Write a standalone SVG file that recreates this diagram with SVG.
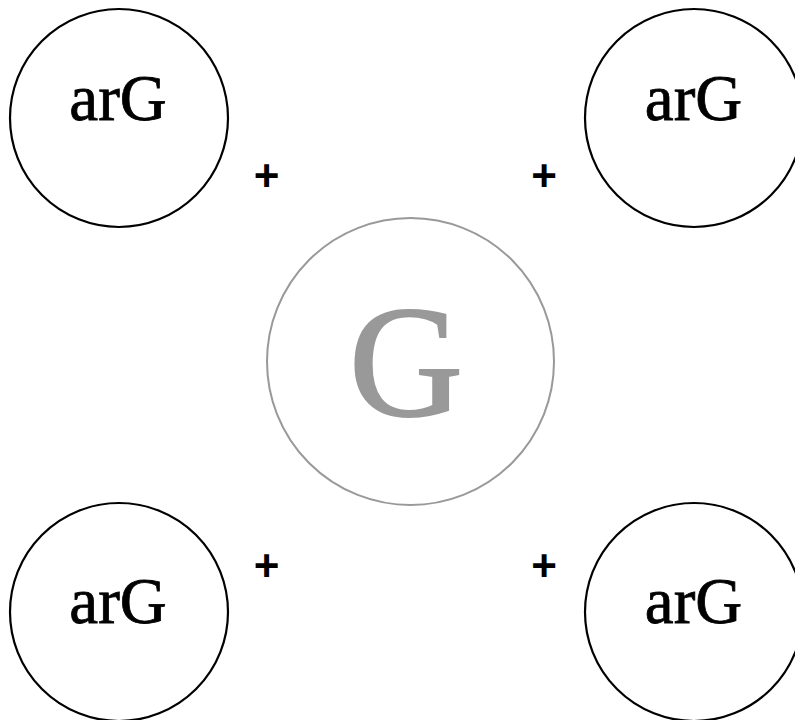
<svg xmlns="http://www.w3.org/2000/svg" width="795" height="720" viewBox="0 0 795 720">
<style>
.ring{fill:#fff;stroke:#000;stroke-width:2.2}
.lbl{font-family:"Liberation Serif","Times New Roman",serif;font-size:65px;fill:#000;stroke:#000;stroke-width:0.8;text-anchor:middle}
.plus{font-family:"Liberation Sans",Arial,sans-serif;font-weight:bold;font-size:44px;fill:#000;text-anchor:middle}
</style>
<rect width="795" height="720" fill="#fff"/>
<g id="center">
<circle cx="410.5" cy="361.5" r="143.5" fill="#fff" stroke="#999" stroke-width="2"/>
<text x="406" y="415" font-family="'Liberation Serif','Times New Roman',serif" font-size="158" fill="#999" stroke="#999" stroke-width="2" text-anchor="middle">G</text>
</g>
<g id="node-tl">
<circle class="ring" cx="119" cy="118" r="109"/>
<text class="lbl" x="118" y="120">arG</text>
</g>
<g id="node-tr">
<circle class="ring" cx="694" cy="118" r="109"/>
<text class="lbl" x="693.5" y="120">arG</text>
</g>
<g id="node-bl">
<circle class="ring" cx="119" cy="612" r="109"/>
<text class="lbl" x="118" y="623">arG</text>
</g>
<g id="node-br">
<circle class="ring" cx="694" cy="612" r="109"/>
<text class="lbl" x="693.5" y="623">arG</text>
</g>
<g id="connectors">
<text class="plus" x="266.5" y="191">+</text>
<text class="plus" x="544" y="191">+</text>
<text class="plus" x="266.5" y="581">+</text>
<text class="plus" x="544" y="581">+</text>
</g>
</svg>
